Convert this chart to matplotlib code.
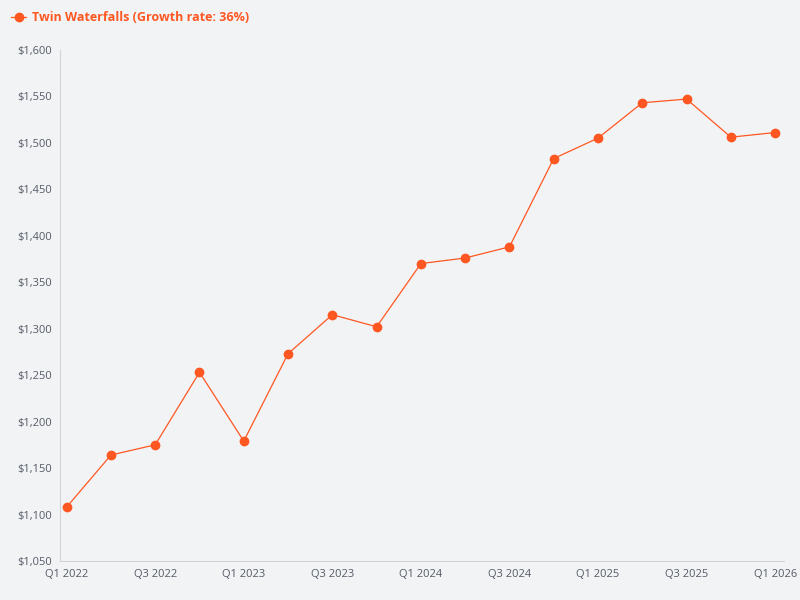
import matplotlib
matplotlib.use("Agg")
import matplotlib.pyplot as plt
from matplotlib.ticker import FuncFormatter

plt.rcParams['font.family'] = ['Open Sans', 'DejaVu Sans']

quarters = ["Q1 2022","Q2 2022","Q3 2022","Q4 2022","Q1 2023","Q2 2023","Q3 2023","Q4 2023",
            "Q1 2024","Q2 2024","Q3 2024","Q4 2024","Q1 2025","Q2 2025","Q3 2025","Q4 2025","Q1 2026"]
values = [1108,1164,1175,1253,1179,1273,1315,1302,1370,1376,1388,1483,1505,1543,1547,1506,1511]
series_name = "Twin Waterfalls (Growth rate: 36%)"

bg = "#f2f3f5"
color = "#ff5722"
fig = plt.figure(figsize=(8, 6), dpi=100, facecolor=bg)
ax = fig.add_axes([0.075, 0.065, 0.905, 0.852], facecolor=bg)
x = list(range(len(quarters)))
ax.plot(x, values, color=color, lw=0.9, marker='o', ms=6, label=series_name)
ax.set_ylim(1050, 1600)
ax.set_yticks(range(1050, 1601, 50))
ax.yaxis.set_major_formatter(FuncFormatter(lambda v, p: f"${v:,.0f}"))
ax.set_xlim(-0.15, len(quarters) - 0.8)
ax.set_xticks(x[::2])
ax.set_xticklabels(quarters[::2])
for s in ['top', 'right']:
    ax.spines[s].set_visible(False)
ax.spines['left'].set_color('#d0d4da')
ax.spines['bottom'].set_color('#d0d4da')
ax.tick_params(length=0, labelsize=8, colors='#555b66', pad=6)
leg = fig.legend(loc='upper left', bbox_to_anchor=(0.0, 1.0), frameon=False,
                 prop={'size': 9, 'weight': 'bold'}, handlelength=1.2, handletextpad=0.5, labelcolor=color)
fig.savefig("out.png", dpi=100, facecolor=bg)
